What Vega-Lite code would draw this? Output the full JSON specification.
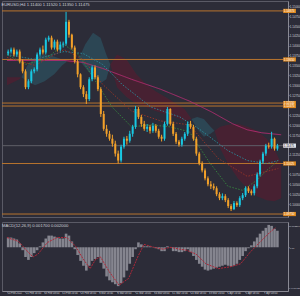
{
"$schema":"https://vega.github.io/schema/vega-lite/v6.json",
"background":"#2c2c38",
"padding":{"left":1,"top":0,"right":0,"bottom":0},
"spacing":3,
"config":{"view":{"stroke":"#5a5a66","strokeWidth":1},"font":"Liberation Sans",
"axis":{"domainColor":"#8a8a94","tickColor":"#8a8a94","labelColor":"#cfcfd6","labelFontSize":3,"tickSize":1,"labelPadding":0.3,"grid":false,"labelFont":"Liberation Sans","labelOverlap":false},
"title":{"color":"#d0d0d8","fontSize":4.2,"fontWeight":"normal","anchor":"start","font":"Liberation Sans"}},
"datasets":{
"candles":[
{"t":0,"o":1.1380,"h":1.1390,"l":1.1375,"c":1.1385},
{"t":1,"o":1.1385,"h":1.1395,"l":1.1380,"c":1.1390},
{"t":2,"o":1.1390,"h":1.1395,"l":1.13725,"c":1.13775},
{"t":3,"o":1.13775,"h":1.1390,"l":1.13725,"c":1.1385},
{"t":4,"o":1.1385,"h":1.1390,"l":1.1355,"c":1.1360},
{"t":5,"o":1.1360,"h":1.1365,"l":1.1330,"c":1.1335},
{"t":6,"o":1.1335,"h":1.1340,"l":1.1290,"c":1.1295},
{"t":7,"o":1.1295,"h":1.1315,"l":1.1290,"c":1.1310},
{"t":8,"o":1.1310,"h":1.1340,"l":1.1305,"c":1.1335},
{"t":9,"o":1.1335,"h":1.1345,"l":1.1330,"c":1.1340},
{"t":10,"o":1.1340,"h":1.13825,"l":1.1335,"c":1.13775},
{"t":11,"o":1.13775,"h":1.1395,"l":1.13725,"c":1.1390},
{"t":12,"o":1.1390,"h":1.1400,"l":1.13775,"c":1.13825},
{"t":13,"o":1.13825,"h":1.1420,"l":1.13775,"c":1.1415},
{"t":14,"o":1.1415,"h":1.1425,"l":1.1410,"c":1.1420},
{"t":15,"o":1.1420,"h":1.1425,"l":1.1390,"c":1.1395},
{"t":16,"o":1.1395,"h":1.1415,"l":1.1390,"c":1.1410},
{"t":17,"o":1.1410,"h":1.1415,"l":1.1385,"c":1.1390},
{"t":18,"o":1.1390,"h":1.1410,"l":1.1385,"c":1.14025},
{"t":19,"o":1.14025,"h":1.1410,"l":1.1395,"c":1.1405},
{"t":20,"o":1.1405,"h":1.1485,"l":1.1400,"c":1.1460},
{"t":21,"o":1.1460,"h":1.1465,"l":1.1420,"c":1.14275},
{"t":22,"o":1.14275,"h":1.1430,"l":1.1390,"c":1.1395},
{"t":23,"o":1.1395,"h":1.1400,"l":1.1355,"c":1.1360},
{"t":24,"o":1.1360,"h":1.1365,"l":1.1320,"c":1.13275},
{"t":25,"o":1.13275,"h":1.1330,"l":1.1290,"c":1.1295},
{"t":26,"o":1.1295,"h":1.1300,"l":1.1270,"c":1.12775},
{"t":27,"o":1.12775,"h":1.1285,"l":1.12525,"c":1.1265},
{"t":28,"o":1.1265,"h":1.1320,"l":1.1260,"c":1.1315},
{"t":29,"o":1.1315,"h":1.1350,"l":1.1310,"c":1.1345},
{"t":30,"o":1.1345,"h":1.1350,"l":1.1315,"c":1.1320},
{"t":31,"o":1.1320,"h":1.1325,"l":1.1285,"c":1.1290},
{"t":32,"o":1.1290,"h":1.1295,"l":1.1220,"c":1.12275},
{"t":33,"o":1.12275,"h":1.1235,"l":1.1185,"c":1.1190},
{"t":34,"o":1.1190,"h":1.1200,"l":1.1170,"c":1.11775},
{"t":35,"o":1.11775,"h":1.1185,"l":1.1160,"c":1.1165},
{"t":36,"o":1.1165,"h":1.1175,"l":1.1145,"c":1.11525},
{"t":37,"o":1.11525,"h":1.1160,"l":1.1120,"c":1.11275},
{"t":38,"o":1.11275,"h":1.1135,"l":1.11025,"c":1.1110},
{"t":39,"o":1.1110,"h":1.1150,"l":1.1105,"c":1.1145},
{"t":40,"o":1.1145,"h":1.1170,"l":1.1140,"c":1.1165},
{"t":41,"o":1.1165,"h":1.1172,"l":1.1150,"c":1.1160},
{"t":42,"o":1.1160,"h":1.1185,"l":1.1155,"c":1.11775},
{"t":43,"o":1.11775,"h":1.1200,"l":1.1170,"c":1.1195},
{"t":44,"o":1.1195,"h":1.12475,"l":1.1190,"c":1.1240},
{"t":45,"o":1.1240,"h":1.1245,"l":1.1215,"c":1.1220},
{"t":46,"o":1.1220,"h":1.1225,"l":1.1195,"c":1.12025},
{"t":47,"o":1.12025,"h":1.1210,"l":1.1185,"c":1.1190},
{"t":48,"o":1.1190,"h":1.1202,"l":1.1182,"c":1.1195},
{"t":49,"o":1.1195,"h":1.1200,"l":1.1178,"c":1.1185},
{"t":50,"o":1.1185,"h":1.1205,"l":1.1180,"c":1.11975},
{"t":51,"o":1.11975,"h":1.1202,"l":1.1180,"c":1.1185},
{"t":52,"o":1.1185,"h":1.1190,"l":1.1165,"c":1.1170},
{"t":53,"o":1.1170,"h":1.1175,"l":1.1158,"c":1.1165},
{"t":54,"o":1.1165,"h":1.1208,"l":1.1160,"c":1.12025},
{"t":55,"o":1.12025,"h":1.1245,"l":1.1198,"c":1.1240},
{"t":56,"o":1.1240,"h":1.1242,"l":1.1198,"c":1.12025},
{"t":57,"o":1.12025,"h":1.1208,"l":1.1172,"c":1.11775},
{"t":58,"o":1.11775,"h":1.1182,"l":1.1152,"c":1.11575},
{"t":59,"o":1.11575,"h":1.1162,"l":1.1145,"c":1.1150},
{"t":60,"o":1.1150,"h":1.1170,"l":1.1145,"c":1.1165},
{"t":61,"o":1.1165,"h":1.1182,"l":1.1160,"c":1.11775},
{"t":62,"o":1.11775,"h":1.1208,"l":1.1172,"c":1.12025},
{"t":63,"o":1.12025,"h":1.1210,"l":1.1190,"c":1.1195},
{"t":64,"o":1.1195,"h":1.1200,"l":1.1160,"c":1.1165},
{"t":65,"o":1.1165,"h":1.1170,"l":1.1122,"c":1.11275},
{"t":66,"o":1.11275,"h":1.1132,"l":1.1098,"c":1.11025},
{"t":67,"o":1.11025,"h":1.1108,"l":1.1080,"c":1.1085},
{"t":68,"o":1.1085,"h":1.1090,"l":1.1060,"c":1.1065},
{"t":69,"o":1.1065,"h":1.1070,"l":1.1045,"c":1.1050},
{"t":70,"o":1.1050,"h":1.1058,"l":1.1038,"c":1.1045},
{"t":71,"o":1.1045,"h":1.1052,"l":1.1035,"c":1.1040},
{"t":72,"o":1.1040,"h":1.1045,"l":1.1020,"c":1.1025},
{"t":73,"o":1.1025,"h":1.1030,"l":1.1010,"c":1.1015},
{"t":74,"o":1.1015,"h":1.1027,"l":1.1010,"c":1.1020},
{"t":75,"o":1.1020,"h":1.1025,"l":1.1005,"c":1.1010},
{"t":76,"o":1.1010,"h":1.1015,"l":1.0990,"c":1.0995},
{"t":77,"o":1.0995,"h":1.1000,"l":1.09825,"c":1.09875},
{"t":78,"o":1.09875,"h":1.1008,"l":1.0985,"c":1.10025},
{"t":79,"o":1.10025,"h":1.1007,"l":1.0993,"c":1.09975},
{"t":80,"o":1.09975,"h":1.1020,"l":1.0993,"c":1.1015},
{"t":81,"o":1.1015,"h":1.1028,"l":1.1010,"c":1.10225},
{"t":82,"o":1.10225,"h":1.1045,"l":1.1018,"c":1.1040},
{"t":83,"o":1.1040,"h":1.1045,"l":1.1028,"c":1.10325},
{"t":84,"o":1.10325,"h":1.1037,"l":1.1022,"c":1.10275},
{"t":85,"o":1.10275,"h":1.1050,"l":1.1022,"c":1.1045},
{"t":86,"o":1.1045,"h":1.1080,"l":1.1040,"c":1.1075},
{"t":87,"o":1.1075,"h":1.1112,"l":1.1070,"c":1.11075},
{"t":88,"o":1.11075,"h":1.1132,"l":1.1102,"c":1.11275},
{"t":89,"o":1.11275,"h":1.1152,"l":1.1122,"c":1.11475},
{"t":90,"o":1.11475,"h":1.1155,"l":1.1140,"c":1.1145},
{"t":91,"o":1.1145,"h":1.11825,"l":1.1140,"c":1.1165},
{"t":92,"o":1.1165,"h":1.1168,"l":1.1135,"c":1.1140},
{"t":93,"o":1.1140,"h":1.1152,"l":1.1135,"c":1.11475}
],
"cloud":[
{"t":-0.4,"a":1.1320,"b":1.1300,"k":"bear","s":1},{"t":3.9,"a":1.1320,"b":1.1315,"k":"bear","s":1},{"t":4.6,"a":1.1320,"b":1.1320,"k":"bear","s":1},
{"t":4.6,"a":1.1320,"b":1.1320,"k":"bull","s":2},{"t":6.6,"a":1.1350,"b":1.1310,"k":"bull","s":2},{"t":9.3,"a":1.1370,"b":1.1300,"k":"bull","s":2},{"t":12.6,"a":1.13775,"b":1.1310,"k":"bull","s":2},{"t":15.9,"a":1.13725,"b":1.13275,"k":"bull","s":2},{"t":18.6,"a":1.1365,"b":1.1350,"k":"bull","s":2},{"t":20.3,"a":1.1360,"b":1.1360,"k":"bull","s":2},
{"t":20.3,"a":1.1360,"b":1.1360,"k":"bear","s":3},{"t":21.9,"a":1.1370,"b":1.1355,"k":"bear","s":3},{"t":24.3,"a":1.1365,"b":1.1365,"k":"bear","s":3},
{"t":24.3,"a":1.1365,"b":1.1365,"k":"bull","s":4},{"t":26.6,"a":1.14025,"b":1.1345,"k":"bull","s":4},{"t":29.3,"a":1.14325,"b":1.1320,"k":"bull","s":4},{"t":31.9,"a":1.1420,"b":1.1305,"k":"bull","s":4},{"t":33.9,"a":1.13775,"b":1.1315,"k":"bull","s":4},{"t":35.3,"a":1.13525,"b":1.13525,"k":"bull","s":4},
{"t":35.3,"a":1.13525,"b":1.13525,"k":"bear","s":5},{"t":37.6,"a":1.13775,"b":1.1295,"k":"bear","s":5},{"t":40.9,"a":1.1365,"b":1.1270,"k":"bear","s":5},{"t":44.3,"a":1.13275,"b":1.12525,"k":"bear","s":5},{"t":47.6,"a":1.13025,"b":1.1245,"k":"bear","s":5},{"t":50.9,"a":1.1285,"b":1.1235,"k":"bear","s":5},{"t":54.3,"a":1.1270,"b":1.12275,"k":"bear","s":5},{"t":57.6,"a":1.1255,"b":1.1220,"k":"bear","s":5},{"t":60.9,"a":1.1240,"b":1.1210,"k":"bear","s":5},{"t":63.3,"a":1.1215,"b":1.1215,"k":"bear","s":5},
{"t":63.3,"a":1.1215,"b":1.1215,"k":"bull","s":6},{"t":65.3,"a":1.1220,"b":1.1190,"k":"bull","s":6},{"t":67.6,"a":1.1215,"b":1.1170,"k":"bull","s":6},{"t":69.9,"a":1.1195,"b":1.11775,"k":"bull","s":6},{"t":71.3,"a":1.1185,"b":1.1185,"k":"bull","s":6},
{"t":71.3,"a":1.1185,"b":1.1185,"k":"bear","s":7},{"t":73.3,"a":1.1195,"b":1.1140,"k":"bear","s":7},{"t":75.9,"a":1.1200,"b":1.11025,"k":"bear","s":7},{"t":79.3,"a":1.12025,"b":1.1065,"k":"bear","s":7},{"t":82.6,"a":1.1195,"b":1.1040,"k":"bear","s":7},{"t":85.9,"a":1.1185,"b":1.1020,"k":"bear","s":7},{"t":89.3,"a":1.1165,"b":1.1010,"k":"bear","s":7},{"t":91.9,"a":1.1140,"b":1.10075,"k":"bear","s":7},{"t":94.3,"a":1.11025,"b":1.1015,"k":"bear","s":7}
],
"ma":[
{"t":-0.4,"v":1.13625,"s":"m200"},{"t":19.3,"v":1.13625,"s":"m200"},{"t":25.9,"v":1.13575,"s":"m200"},{"t":32.6,"v":1.13425,"s":"m200"},{"t":42.6,"v":1.1315,"s":"m200"},{"t":52.6,"v":1.1290,"s":"m200"},{"t":62.6,"v":1.1260,"s":"m200"},{"t":70.3,"v":1.12325,"s":"m200"},{"t":77.6,"v":1.12025,"s":"m200"},{"t":82.6,"v":1.11875,"s":"m200"},{"t":87.6,"v":1.1180,"s":"m200"},{"t":94.3,"v":1.1175,"s":"m200"},
{"t":-0.4,"v":1.13775,"s":"teal"},{"t":9.3,"v":1.1365,"s":"teal"},{"t":19.3,"v":1.1385,"s":"teal"},{"t":25.9,"v":1.1380,"s":"teal"},{"t":32.6,"v":1.13525,"s":"teal"},{"t":39.3,"v":1.13025,"s":"teal"},{"t":49.3,"v":1.1245,"s":"teal"},{"t":59.3,"v":1.1220,"s":"teal"},{"t":65.9,"v":1.1190,"s":"teal"},{"t":75.9,"v":1.1135,"s":"teal"},{"t":82.6,"v":1.1110,"s":"teal"},{"t":89.3,"v":1.11025,"s":"teal"},{"t":93.3,"v":1.1110,"s":"teal"},
{"t":-0.4,"v":1.13775,"s":"green"},{"t":5.9,"v":1.13525,"s":"green"},{"t":12.6,"v":1.1365,"s":"green"},{"t":19.3,"v":1.14025,"s":"green"},{"t":24.3,"v":1.13775,"s":"green"},{"t":29.3,"v":1.1320,"s":"green"},{"t":35.9,"v":1.1245,"s":"green"},{"t":42.6,"v":1.1195,"s":"green"},{"t":49.3,"v":1.1200,"s":"green"},{"t":55.9,"v":1.1195,"s":"green"},{"t":62.6,"v":1.11825,"s":"green"},{"t":69.3,"v":1.11075,"s":"green"},{"t":75.9,"v":1.1045,"s":"green"},{"t":80.9,"v":1.1035,"s":"green"},{"t":85.9,"v":1.1060,"s":"green"},{"t":89.3,"v":1.1085,"s":"green"},{"t":93.3,"v":1.1110,"s":"green"},
{"t":-0.4,"v":1.1370,"s":"red"},{"t":9.3,"v":1.1350,"s":"red"},{"t":19.3,"v":1.1390,"s":"red"},{"t":25.9,"v":1.1365,"s":"red"},{"t":32.6,"v":1.13025,"s":"red"},{"t":42.6,"v":1.1235,"s":"red"},{"t":52.6,"v":1.1210,"s":"red"},{"t":62.6,"v":1.1200,"s":"red"},{"t":72.6,"v":1.1115,"s":"red"},{"t":82.6,"v":1.1070,"s":"red"},{"t":93.3,"v":1.1090,"s":"red"}
],
"levels":[{"p":1.14875},{"p":1.1365},{"p":1.1255},{"p":1.12475},{"p":1.11025},{"p":1.0975}],
"cur":[{"p":1.11475}],
"hist":[
{"t":0,"v":0.0010},{"t":1,"v":0.0010},{"t":2,"v":0.0009},{"t":3,"v":0.0008},{"t":4,"v":0.0004},{"t":5,"v":-0.0003},{"t":6,"v":-0.0010},{"t":7,"v":-0.0013},{"t":8,"v":-0.0010},{"t":9,"v":-0.0006},
{"t":10,"v":-0.0003},{"t":11,"v":0.0001},{"t":12,"v":0.0005},{"t":13,"v":0.0009},{"t":14,"v":0.0012},{"t":15,"v":0.0012},{"t":16,"v":0.0011},{"t":17,"v":0.0010},{"t":18,"v":0.0009},{"t":19,"v":0.0009},
{"t":20,"v":0.0014},{"t":21,"v":0.0012},{"t":22,"v":0.0006},{"t":23,"v":-0.0002},{"t":24,"v":-0.0008},{"t":25,"v":-0.0014},{"t":26,"v":-0.0019},{"t":27,"v":-0.0024},{"t":28,"v":-0.0019},{"t":29,"v":-0.0014},
{"t":30,"v":-0.0012},{"t":31,"v":-0.0010},{"t":32,"v":-0.0016},{"t":33,"v":-0.0022},{"t":34,"v":-0.0030},{"t":35,"v":-0.0034},{"t":36,"v":-0.0036},{"t":37,"v":-0.0038},{"t":38,"v":-0.0040},{"t":39,"v":-0.0037},
{"t":40,"v":-0.0031},{"t":41,"v":-0.0024},{"t":42,"v":-0.0017},{"t":43,"v":-0.0010},{"t":44,"v":-0.0002},{"t":45,"v":0.0005},{"t":46,"v":0.0003},{"t":47,"v":0.0001},{"t":48,"v":0.0001},{"t":49,"v":0.0001},
{"t":50,"v":0.00002},{"t":51,"v":-0.0001},{"t":52,"v":-0.0002},{"t":53,"v":-0.0004},{"t":54,"v":-0.0004},{"t":55,"v":0.0001},{"t":56,"v":0.00002},{"t":57,"v":-0.0004},{"t":58,"v":-0.0004},{"t":59,"v":-0.0005},
{"t":60,"v":-0.0005},{"t":61,"v":-0.0004},{"t":62,"v":-0.0002},{"t":63,"v":-0.0005},{"t":64,"v":-0.0009},{"t":65,"v":-0.0013},{"t":66,"v":-0.0017},{"t":67,"v":-0.0020},{"t":68,"v":-0.0023},{"t":69,"v":-0.0024},
{"t":70,"v":-0.0023},{"t":71,"v":-0.0022},{"t":72,"v":-0.0021},{"t":73,"v":-0.0020},{"t":74,"v":-0.0019},{"t":75,"v":-0.0018},{"t":76,"v":-0.0019},{"t":77,"v":-0.0020},{"t":78,"v":-0.0019},{"t":79,"v":-0.0017},
{"t":80,"v":-0.0013},{"t":81,"v":-0.0009},{"t":82,"v":-0.0004},{"t":83,"v":-0.0001},{"t":84,"v":0.0002},{"t":85,"v":0.0006},{"t":86,"v":0.0010},{"t":87,"v":0.0014},{"t":88,"v":0.0017},{"t":89,"v":0.0020},
{"t":90,"v":0.0023},{"t":91,"v":0.0022},{"t":92,"v":0.0019},{"t":93,"v":0.0017}
],
"signal":[
{"t":-0.4,"v":0.0010},{"t":3.6,"v":0.0006},{"t":6.9,"v":-0.0005},{"t":8.6,"v":-0.0010},{"t":10.3,"v":-0.0007},{"t":13.6,"v":0.0005},{"t":16.9,"v":0.0010},{"t":20.3,"v":0.0010},{"t":23.3,"v":0.0001},{"t":25.9,"v":-0.0012},{"t":28.3,"v":-0.0022},{"t":30.3,"v":-0.0012},{"t":31.9,"v":-0.0010},{"t":34.9,"v":-0.0025},{"t":38.3,"v":-0.0039},{"t":41.6,"v":-0.0032},{"t":44.9,"v":-0.0009},{"t":46.9,"v":0.0003},{"t":50.3,"v":0.0},{"t":53.6,"v":-0.0002},{"t":55.9,"v":0.0},{"t":59.3,"v":-0.0002},{"t":61.6,"v":-0.0003},{"t":64.9,"v":-0.0007},{"t":68.3,"v":-0.0017},{"t":72.6,"v":-0.0022},{"t":76.9,"v":-0.0020},{"t":80.3,"v":-0.0017},{"t":83.6,"v":-0.0005},{"t":86.9,"v":0.0005},{"t":90.6,"v":0.0016},{"t":92.3,"v":0.0020}
]
},
"vconcat":[
{
"width":286,"height":216,
"title":{"text":"EURUSD,H4  1.11400 1.11520 1.11350 1.11475","offset":-6},
"layer":[
{"data":{"name":"cloud"},"transform":[{"filter":"datum.k == 'bull'"}],"mark":{"type":"area","color":"#2c6070","opacity":0.5},
"encoding":{"x":{"field":"t","type":"quantitative","scale":{"domain":[-0.4,94.93],"nice":false,"zero":false},"axis":null},
"y":{"field":"a","type":"quantitative","title":null,"scale":{"domain":[1.09675,1.15125],"nice":false,"zero":false},
"axis":{"orient":"right","values":[1.1,1.1025,1.105,1.1075,1.1125,1.1175,1.12,1.1225,1.1275,1.13,1.1325,1.135,1.1375,1.14,1.1425,1.145,1.1475,1.15],"format":".5f","labelOverlap":false,"labelFlush":false}},
"y2":{"field":"b"},"detail":{"field":"s"}}},
{"data":{"name":"cloud"},"transform":[{"filter":"datum.k == 'bear'"}],"mark":{"type":"area","color":"#5e1a2e","opacity":0.55},
"encoding":{"x":{"field":"t","type":"quantitative","axis":null},"y":{"field":"a","type":"quantitative","title":null,"axis":{"orient":"right","values":[1.1,1.1025,1.105,1.1075,1.1125,1.1175,1.12,1.1225,1.1275,1.13,1.1325,1.135,1.1375,1.14,1.1425,1.145,1.1475,1.15],"format":".5f","labelOverlap":false,"labelFlush":false}},"y2":{"field":"b"},"detail":{"field":"s"}}},
{"data":{"name":"levels"},"mark":{"type":"rule","color":"#b8742e","strokeWidth":1},"encoding":{"y":{"field":"p","type":"quantitative","title":null,"axis":{"orient":"right","values":[1.1,1.1025,1.105,1.1075,1.1125,1.1175,1.12,1.1225,1.1275,1.13,1.1325,1.135,1.1375,1.14,1.1425,1.145,1.1475,1.15],"format":".5f","labelOverlap":false,"labelFlush":false}}}},
{"data":{"name":"cur"},"mark":{"type":"rule","color":"#5e5e68","strokeWidth":1},"encoding":{"y":{"field":"p","type":"quantitative","title":null,"axis":{"orient":"right","values":[1.1,1.1025,1.105,1.1075,1.1125,1.1175,1.12,1.1225,1.1275,1.13,1.1325,1.135,1.1375,1.14,1.1425,1.145,1.1475,1.15],"format":".5f","labelOverlap":false,"labelFlush":false}}}},
{"data":{"name":"ma"},"mark":{"type":"line","strokeWidth":0.9},"encoding":{"x":{"field":"t","type":"quantitative","axis":null},"y":{"field":"v","type":"quantitative","title":null,"axis":{"orient":"right","values":[1.1,1.1025,1.105,1.1075,1.1125,1.1175,1.12,1.1225,1.1275,1.13,1.1325,1.135,1.1375,1.14,1.1425,1.145,1.1475,1.15],"format":".5f","labelOverlap":false,"labelFlush":false}},
"color":{"field":"s","type":"nominal","legend":null,"scale":{"domain":["m200","teal","green","red"],"range":["#b42c72","#2a8c9c","#35883e","#983428"]}},
"strokeDash":{"field":"s","type":"nominal","legend":null,"scale":{"domain":["m200","teal","green","red"],"range":[[1,0],[1.5,1.5],[1.5,1.5],[1.5,1.5]]}}}},
{"data":{"name":"candles"},"mark":{"type":"rule","strokeWidth":1},"encoding":{"x":{"field":"t","type":"quantitative","axis":null},"y":{"field":"l","type":"quantitative","title":null,"axis":{"orient":"right","values":[1.1,1.1025,1.105,1.1075,1.1125,1.1175,1.12,1.1225,1.1275,1.13,1.1325,1.135,1.1375,1.14,1.1425,1.145,1.1475,1.15],"format":".5f","labelOverlap":false,"labelFlush":false}},"y2":{"field":"h"},
"color":{"condition":{"test":"datum.c >= datum.o","value":"#19c8e2"},"value":"#f2a12a"}}},
{"data":{"name":"candles"},"mark":{"type":"bar","size":2},"encoding":{"x":{"field":"t","type":"quantitative","axis":null},"y":{"field":"o","type":"quantitative","title":null,"axis":{"orient":"right","values":[1.1,1.1025,1.105,1.1075,1.1125,1.1175,1.12,1.1225,1.1275,1.13,1.1325,1.135,1.1375,1.14,1.1425,1.145,1.1475,1.15],"format":".5f","labelOverlap":false,"labelFlush":false}},"y2":{"field":"c"},
"color":{"condition":{"test":"datum.c >= datum.o","value":"#19c8e2"},"value":"#f2a12a"}}},
{"data":{"name":"levels"},"mark":{"type":"rule","color":"#e08a22","strokeWidth":4.2,"strokeCap":"butt","clip":false},"encoding":{"x":{"datum":95.0,"axis":null},"x2":{"datum":99.4},"y":{"field":"p","type":"quantitative","title":null,"axis":{"orient":"right","values":[1.1,1.1025,1.105,1.1075,1.1125,1.1175,1.12,1.1225,1.1275,1.13,1.1325,1.135,1.1375,1.14,1.1425,1.145,1.1475,1.15],"format":".5f","labelOverlap":false,"labelFlush":false}}}},
{"data":{"name":"levels"},"mark":{"type":"text","color":"#ffffff","fontSize":3,"align":"left","baseline":"middle","clip":false},"encoding":{"x":{"datum":95.15,"axis":null},"y":{"field":"p","type":"quantitative","title":null,"axis":{"orient":"right","values":[1.1,1.1025,1.105,1.1075,1.1125,1.1175,1.12,1.1225,1.1275,1.13,1.1325,1.135,1.1375,1.14,1.1425,1.145,1.1475,1.15],"format":".5f","labelOverlap":false,"labelFlush":false}},"text":{"field":"p","type":"quantitative","format":".5f"}}},
{"data":{"name":"cur"},"mark":{"type":"rule","color":"#e8e8ee","strokeWidth":4.2,"strokeCap":"butt","clip":false},"encoding":{"x":{"datum":95.0,"axis":null},"x2":{"datum":99.4},"y":{"field":"p","type":"quantitative","title":null,"axis":{"orient":"right","values":[1.1,1.1025,1.105,1.1075,1.1125,1.1175,1.12,1.1225,1.1275,1.13,1.1325,1.135,1.1375,1.14,1.1425,1.145,1.1475,1.15],"format":".5f","labelOverlap":false,"labelFlush":false}}}},
{"data":{"name":"cur"},"mark":{"type":"text","color":"#202028","fontSize":3,"align":"left","baseline":"middle","clip":false},"encoding":{"x":{"datum":95.15,"axis":null},"y":{"field":"p","type":"quantitative","title":null,"axis":{"orient":"right","values":[1.1,1.1025,1.105,1.1075,1.1125,1.1175,1.12,1.1225,1.1275,1.13,1.1325,1.135,1.1375,1.14,1.1425,1.145,1.1475,1.15],"format":".5f","labelOverlap":false,"labelFlush":false}},"text":{"field":"p","type":"quantitative","format":".5f"}}}
]
},
{
"width":286,"height":69,
"title":{"text":"MACD(12,26,9) 0.001700 0.002000","offset":-6},
"layer":[
{"data":{"name":"hist"},"mark":{"type":"bar","size":2.6,"color":"#85858f"},
"encoding":{"x":{"field":"t","type":"quantitative","scale":{"domain":[-0.4,94.93],"nice":false,"zero":false},
"axis":{"values":[-0.4,5.933,12.267,18.6,24.933,31.267,37.6,43.933,50.267,56.6,62.933,69.267,75.6,81.933,88.267],"labelAlign":"left","labelFlush":false,"labelOverlap":false,"labelFontSize":2.6,"title":null,
"labelExpr":"['10 Feb 2022','15 Feb 16:00','18 Feb 08:00','23 Feb 16:00','28 Feb 08:00','3 Mar 16:00','8 Mar 08:00','11 Mar 16:00','16 Mar 08:00','21 Mar 16:00','24 Mar 08:00','29 Mar 16:00','1 Apr 16:00','5 Apr 08:00','7 Apr 08:00'][round((datum.value+0.4)/6.3333)]"}},
"y":{"field":"v","type":"quantitative","title":null,"scale":{"domain":[-0.0045,0.0026],"nice":false},
"axis":{"orient":"right","values":[-0.0042,0,0.0022],"labelOverlap":false,"labelFlush":false,"labelFontSize":2.4,"labelExpr":"datum.value == 0 ? '0.00' : format(datum.value, '.6f')"}}}},
{"data":{"name":"signal"},"mark":{"type":"line","color":"#b02838","strokeWidth":1,"strokeDash":[2,1]},
"encoding":{"x":{"field":"t","type":"quantitative","axis":{"values":[-0.4,5.933,12.267,18.6,24.933,31.267,37.6,43.933,50.267,56.6,62.933,69.267,75.6,81.933,88.267],"labelAlign":"left","labelFlush":false,"labelOverlap":false,"labelFontSize":2.6,"title":null,
"labelExpr":"['10 Feb 2022','15 Feb 16:00','18 Feb 08:00','23 Feb 16:00','28 Feb 08:00','3 Mar 16:00','8 Mar 08:00','11 Mar 16:00','16 Mar 08:00','21 Mar 16:00','24 Mar 08:00','29 Mar 16:00','1 Apr 16:00','5 Apr 08:00','7 Apr 08:00'][round((datum.value+0.4)/6.3333)]"}},
"y":{"field":"v","type":"quantitative","title":null,"axis":{"orient":"right","values":[-0.0042,0,0.0022],"labelOverlap":false,"labelFlush":false,"labelFontSize":2.4,"labelExpr":"datum.value == 0 ? '0.00' : format(datum.value, '.6f')"}}}}
]
}
]
}
